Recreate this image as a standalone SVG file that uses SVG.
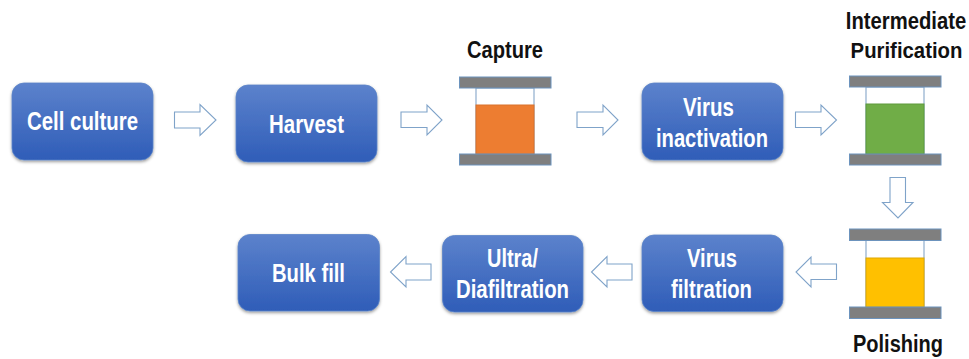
<svg xmlns="http://www.w3.org/2000/svg" width="969" height="359" viewBox="0 0 969 359">
<style>
.box{fill:url(#g);stroke:#5b84c8;stroke-width:.8;filter:url(#s)}
.lbl{font:bold 25px "Liberation Sans",Arial,sans-serif;fill:#fff;text-anchor:middle}
.cap{font:bold 23px "Liberation Sans",Arial,sans-serif;fill:#111;text-anchor:middle}
.arr{fill:#fff;stroke:#7fa3c9;stroke-width:1.1}
.bar{fill:#7f7f7f;stroke:#6c93bd;stroke-width:1}
.wall{fill:#fff;stroke:#8fadce;stroke-width:1.2}
</style>
<defs>
<linearGradient id="g" x1="0" y1="0" x2="0" y2="1"><stop offset="0" stop-color="#5c82cc"/><stop offset="1" stop-color="#2f5db8"/></linearGradient>
<filter id="s" x="-5%" y="-5%" width="110%" height="115%"><feDropShadow dx="0" dy="1.5" stdDeviation="1.5" flood-color="#000" flood-opacity=".4"/></filter>
</defs>
<rect width="969" height="359" fill="#fff"/>
<g id="connectors">
<path class="arr" d="M174.500 112H200V104.500L216 120L200 135.500V128H174.500Z"/>
<path class="arr" d="M401 112H427V105L442 120L427 135V127.500H401Z"/>
<path class="arr" d="M577 112H603V105L618 120L603 135V127.500H577Z"/>
<path class="arr" d="M795.500 112H821V105L836.500 120L821 135V127.500H795.500Z"/>
<path class="arr" d="M890 177.500H905.500V202.500H913L898 218L882.500 202.500H890Z"/>
<path class="arr" d="M836.500 264H811V257L796 272L811 287V279.500H836.500Z"/>
<path class="arr" d="M632 264H607V256.500L591.500 272L607 287V280H632Z"/>
<path class="arr" d="M431 264H406V256.500L390.500 272L406 287V280H431Z"/>
</g>
<g id="cell-culture"><rect class="box" x="12" y="83" width="141" height="77" rx="12"/><text class="lbl" x="82.500" y="130" textLength="111" lengthAdjust="spacingAndGlyphs">Cell culture</text></g>
<g id="harvest"><rect class="box" x="236" y="85" width="141" height="77" rx="12"/><text class="lbl" x="306.500" y="133" textLength="75" lengthAdjust="spacingAndGlyphs">Harvest</text></g>
<g id="capture"><text class="cap" x="505" y="58" textLength="76" lengthAdjust="spacingAndGlyphs">Capture</text><rect class="wall" x="476" y="88" width="58" height="66"/><rect x="476" y="105" width="58" height="49" fill="#ed7d31" stroke="#d9722c"/><rect class="bar" x="459.500" y="77" width="91.500" height="11"/><rect class="bar" x="459.500" y="154" width="91.500" height="11"/></g>
<g id="virus-inactivation"><rect class="box" x="642" y="83" width="141" height="77" rx="12"/><text class="lbl" x="708.500" y="116" textLength="51" lengthAdjust="spacingAndGlyphs">Virus</text><text class="lbl" x="712" y="147" textLength="112" lengthAdjust="spacingAndGlyphs">inactivation</text></g>
<g id="intermediate-purification"><text class="cap" transform="translate(906 29) scale(.88 1)">Intermediate</text><text class="cap" transform="translate(906.500 58) scale(.885 1)">Purification</text><rect class="wall" x="866" y="87" width="58" height="67"/><rect x="866" y="104" width="58" height="50" fill="#70ad47" stroke="#5f9a3c"/><rect class="bar" x="849.500" y="76" width="91.500" height="11"/><rect class="bar" x="849.500" y="154" width="91.500" height="11"/></g>
<g id="polishing"><rect class="wall" x="866" y="240" width="58" height="67"/><rect x="866" y="258" width="58" height="49" fill="#ffc000" stroke="#e0a800"/><rect class="bar" x="849.500" y="229" width="91.500" height="11.500"/><rect class="bar" x="849.500" y="307" width="91.500" height="11.500"/><text class="cap" x="898" y="352" textLength="90" lengthAdjust="spacingAndGlyphs">Polishing</text></g>
<g id="virus-filtration"><rect class="box" x="642" y="235" width="141" height="76.500" rx="12"/><text class="lbl" x="712" y="267" textLength="50" lengthAdjust="spacingAndGlyphs">Virus</text><text class="lbl" x="711.500" y="298" textLength="81" lengthAdjust="spacingAndGlyphs">filtration</text></g>
<g id="ultra-diafiltration"><rect class="box" x="442.500" y="235.500" width="140.500" height="76.500" rx="12"/><text class="lbl" x="512.500" y="267" textLength="51" lengthAdjust="spacingAndGlyphs">Ultra/</text><text class="lbl" x="512.500" y="298" textLength="113" lengthAdjust="spacingAndGlyphs">Diafiltration</text></g>
<g id="bulk-fill"><rect class="box" x="238" y="234.500" width="141.500" height="76.500" rx="12"/><text class="lbl" x="308.500" y="282" textLength="73" lengthAdjust="spacingAndGlyphs">Bulk fill</text></g>
</svg>
